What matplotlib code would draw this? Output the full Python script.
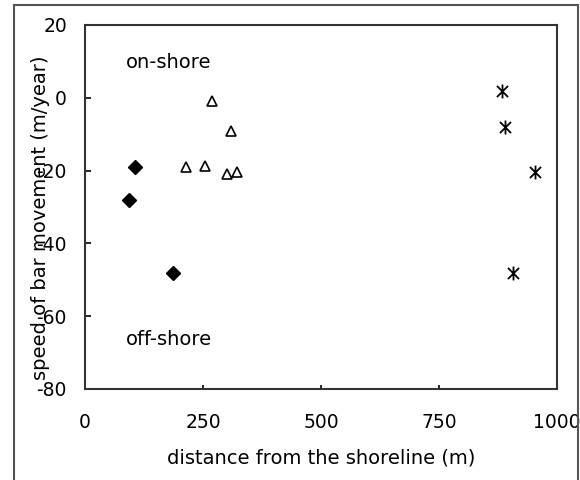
import numpy as np
import matplotlib
matplotlib.use("Agg")
import matplotlib.pyplot as plt
from matplotlib.path import Path
from matplotlib.lines import Line2D

# bar groups: distance from shoreline (m) and speed (m/year)
near_x = [106, 93, 186]
near_y = [-19, -28, -48]

mid_x = [270, 310, 213, 254, 300, 321]
mid_y = [-1, -9, -19, -18.7, -20.9, -20.5]

far_x = [884, 890, 953, 906]
far_y = [2, -8, -20.3, -48.2]

x_ticks = [0, 250, 500, 750, 1000]
y_ticks = [-80, -60, -40, -20, 0, 20]

plt.rcParams["font.family"] = "DejaVu Sans"
plt.rcParams["axes.unicode_minus"] = False

# asterisk: vertical stroke crossed by an X
star = Path(
    [(0, -1), (0, 1), (-0.8, -0.8), (0.8, 0.8), (-0.8, 0.8), (0.8, -0.8)],
    [Path.MOVETO, Path.LINETO, Path.MOVETO, Path.LINETO, Path.MOVETO, Path.LINETO]
)

fig = plt.figure(figsize=(5.8, 4.8), dpi=100)
ax = fig.add_axes([85 / 580, 1 - 389 / 480, 472 / 580, 364 / 480])

ax.plot(near_x, near_y, linestyle="none", marker="D", markersize=7,
        color="black")
ax.plot(mid_x, mid_y, linestyle="none", marker="^", markersize=7.5,
        markerfacecolor="white", markeredgecolor="black", markeredgewidth=1.2)
ax.plot(far_x, far_y, linestyle="none", marker=star, markersize=10,
        markerfacecolor="none", markeredgecolor="black", markeredgewidth=1.3)

ax.set_xlim(0, 1000)
ax.set_ylim(-80, 20)
ax.set_xticks(x_ticks)
ax.set_yticks(y_ticks)

ax.tick_params(axis="both", direction="in", labelsize=13.5, colors="black")
ax.tick_params(axis="y", length=4, width=1.2, pad=13)
ax.tick_params(axis="x", length=3, width=1.2, pad=17)

for side in ax.spines.values():
    side.set_linewidth(1.5)
    side.set_color("#333333")

ax.text(87, 9.6, "on-shore", fontsize=14, va="center", ha="left")
ax.text(87, -66.3, "off-shore", fontsize=14, va="center", ha="left")

ax.set_xlabel("distance from the shoreline (m)", fontsize=14, labelpad=12)
ax.set_ylabel("speed of bar movement (m/year)", fontsize=14)
ax.yaxis.set_label_coords(-0.074, 0.47)

# outer frame around the figure
frame_kw = dict(color="#555555", linewidth=1.5, transform=fig.transFigure)
fig.add_artist(Line2D([14 / 580, 14 / 580], [0, 1 - 4.5 / 480], **frame_kw))
fig.add_artist(Line2D([14 / 580, 578 / 580], [1 - 4.5 / 480, 1 - 4.5 / 480], **frame_kw))
fig.add_artist(Line2D([578 / 580, 578 / 580], [0, 1 - 4.5 / 480], **frame_kw))

fig.savefig("out.png", dpi=100)
